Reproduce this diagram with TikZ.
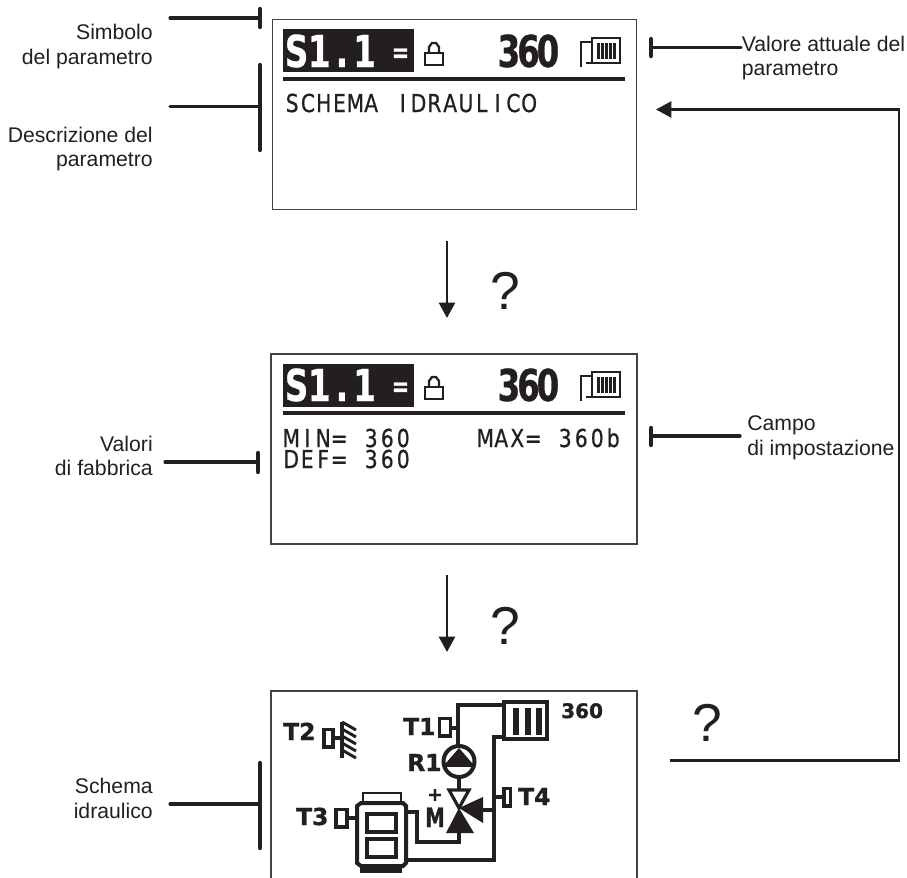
\documentclass[tikz,border=0pt]{standalone}
\usepackage{fontspec}
\usetikzlibrary{arrows.meta}
\setmainfont{Liberation Sans}
\newfontfamily\lcdreg[FakeStretch=0.82,FakeBold=0.7]{DejaVu Sans}
\newfontfamily\lcdbold[FakeStretch=0.74,FakeBold=0.6]{DejaVu Sans}
\newfontfamily\iconbold[FakeBold=1.2]{DejaVu Sans}
\makeatletter
\newcommand\lcdfix[2]{\@tfor\lcd@c:=#2\do{\makebox[#1][c]{\lcd@c}}}
\makeatother
\definecolor{ink}{HTML}{231F20}
\tikzset{
  x=0.75pt,y=-0.75pt,
  screen/.style={draw=ink!85,line width=0.85pt,fill=white,inner sep=0pt},
  lbl/.style={inner sep=0pt,text=ink,font=\fontsize{15.9}{19}\selectfont},
  lead/.style={draw=ink,line width=2.3pt,line cap=round},
  bar/.style={draw=ink,line width=3.2pt,line cap=round},
  flow/.style={draw=ink,line width=1.9pt,-{Triangle[length=11.5pt,width=12pt]}},
  ask/.style={inner sep=0pt,text=ink,font=\fontsize{40}{44}\selectfont},
  rule/.style={draw=ink,line width=2.4pt},
  lcdtxt/.style={inner sep=0pt,anchor=base west,text=ink,font=\lcdreg\fontsize{18.5}{20}\selectfont},
  bigtxt/.style={inner sep=0pt,anchor=base west,text=ink,font=\lcdbold\bfseries\fontsize{33}{36}\selectfont},
  eqtxt/.style={inner sep=0pt,anchor=base,text=white,font=\lcdbold\bfseries\fontsize{21}{24}\selectfont},
  icontxt/.style={inner sep=0pt,anchor=base west,text=ink,font=\iconbold\bfseries\fontsize{17.5}{18}\selectfont},
  pipe/.style={draw=ink,line width=3pt,line join=miter},
  thin/.style={draw=ink,line width=1.7pt},
  sens/.style={draw=ink,line width=2.8pt},
}
\newcommand\lockicon[2]{%
  \draw[thin] (#1,#2) rectangle ++(18,12);
  \draw[thin] (#1+4,#2) -- (#1+4,#2-6) -- (#1+7,#2-10) -- (#1+11,#2-10) -- (#1+14,#2-6) -- (#1+14,#2);
}
\newcommand\radicon[2]{%
  \draw[thin] (#1+1,#2+29) -- (#1+1,#2+4) -- (#1+12,#2+4);
  \draw[thin] (#1+6,#2+25) -- (#1+12,#2+25);
  \draw[thin] (#1+12,#2) rectangle ++(28,25);
  \foreach \k in {0,...,4}{\fill[ink] (#1+17+\k*4,#2+5) rectangle ++(2.6,16);}
}
\begin{document}
\begin{tikzpicture}
\useasboundingbox (0,0) rectangle (907,878);
% screens
\node[screen,minimum width=272.5pt,minimum height=142pt] (s1) at (454.5,114.5) {};
\node[screen,minimum width=274.5pt,minimum height=142.5pt] (s2) at (454,449) {};
\coordinate (s3a) at (271,878);
\coordinate (s3b) at (637,878);
\coordinate (s3t) at (637,691);
\draw[draw=ink!85,line width=0.85pt] (s3a) |- (s3t) -- (s3b);
% screen 1
\node[fill=ink,inner sep=0pt,minimum width=98.25pt,minimum height=32.25pt,anchor=north west] (inv1) at (283,29) {};
\node[bigtxt,text=white] (sym1) at (285,67) {\lcdfix{17pt}{S1.1}};
\node[eqtxt] (eq1) at (400.5,62) {=};
\lockicon{425}{53}
\node[bigtxt] (val1) at (499,67) {\lcdfix{14.6pt}{360}};
\radicon{580}{38}
\draw[rule] (283,79) -- (625,79);
\node[lcdtxt] (desc) at (284,112) {\lcdfix{11.85pt}{SCHEMA~IDRAULICO}};
% screen 2
\node[fill=ink,inner sep=0pt,minimum width=98.25pt,minimum height=32.25pt,anchor=north west] (inv2) at (283,364) {};
\node[bigtxt,text=white] (sym2) at (285,401) {\lcdfix{17pt}{S1.1}};
\node[eqtxt] (eq2) at (400.5,396) {=};
\lockicon{425}{387}
\node[bigtxt] (val2) at (499,401) {\lcdfix{14.6pt}{360}};
\radicon{580}{372}
\draw[rule] (283,413) -- (625,413);
\node[lcdtxt] (minv) at (283,447) {\lcdfix{12pt}{MIN=~360}};
\node[lcdtxt] (defv) at (283,468) {\lcdfix{12pt}{DEF=~360}};
\node[lcdtxt] (maxv) at (477,447) {\lcdfix{12pt}{MAX=~360b}};
% screen 3: hydraulic scheme
\node[icontxt] (t2) at (283,740) {T2};
\draw[sens] (324,729.5) rectangle (333,747);
\draw[pipe] (334,738) -- (342,738);
\draw[pipe] (342,722) -- (342,758);
\foreach \yy in {722,729,736,743,750}{\draw[pipe,line width=2.2pt] (342,\yy) -- (356,\yy+8);}
\node[icontxt] (t1) at (403,735) {T1};
\draw[sens] (439.5,718.5) rectangle (450.5,736);
\draw[pipe] (451,727.5) -- (458,727.5);
\draw[pipe] (503,705) -| (458,745);
\draw[pipe,line width=3.4pt] (504,702) rectangle (547,739);
\foreach \xx in {513,525,536}{\fill[ink] (\xx,708) rectangle ++(5.5,27);}
\draw[pipe] (503,737) -| (494,860) -- (406,860);
\node[icontxt,font=\iconbold\bfseries\fontsize{15}{16}\selectfont] (n360) at (561,718) {360};
\node[icontxt] (r1) at (407,771) {R1};
\draw[pipe] (459,761.5) circle (15.5);
\fill[ink] (459,748) -- (472,763) -- (446,763) -- cycle;
\draw[pipe] (444,765) -- (474,765);
\draw[pipe] (458.5,777) -- (458.5,789);
\draw[thin,line width=2.4pt] (449,790) -- (469,790) -- (459,808) -- cycle;
\fill[ink] (459,808) -- (474,833) -- (446,833) -- cycle;
\fill[ink] (459,808) -- (483,797) -- (483,823) -- cycle;
\draw[pipe] (482,810) -- (494,810);
\draw[pipe] (494,797) -- (503,797);
\draw[sens] (504,788.5) rectangle (510.5,806);
\node[icontxt] (t4) at (518,805) {T4};
\node[icontxt,anchor=center,font=\iconbold\bfseries\fontsize{14}{14}\selectfont] (plus) at (435,795) {+};
\node[icontxt,anchor=base,font=\lcdbold\bfseries\fontsize{20}{22}\selectfont] (mot) at (435,827) {M};
\draw[pipe] (458.5,832) -- (458.5,842) -- (417,842) -- (417,812) -- (406,812);
\node[icontxt] (t3) at (296,825) {T3};
\draw[sens] (336,809.5) rectangle (347,827);
\draw[pipe] (347,818) -- (356,818);
\draw[pipe] (361,803) -- (403,803) -- (406,806) -- (406,863) -- (403,866) -- (361,866) -- (357,863) -- (357,806) -- cycle;
\draw[pipe,line width=2.2pt] (363,803) -- (363,793) -- (401,793) -- (401,803);
\draw[pipe,line width=2.8pt] (367,814) rectangle (396,832);
\draw[pipe,line width=2.8pt] (367,839) rectangle (396,857);
\fill[ink] (360,866) rectangle (402,873);
% left labels
\node[lbl,anchor=base east] (l1a) at (153,39.5) {Simbolo};
\node[lbl,anchor=base east] (l1b) at (153,64) {del parametro};
\node[lbl,anchor=base east] (l2a) at (153,142.5) {Descrizione del};
\node[lbl,anchor=base east] (l2b) at (153,166) {parametro};
\node[lbl,anchor=base east] (l3a) at (153,451) {Valori};
\node[lbl,anchor=base east] (l3b) at (153,475) {di fabbrica};
\node[lbl,anchor=base east] (l4a) at (153,793) {Schema};
\node[lbl,anchor=base east] (l4b) at (153,818) {idraulico};
% right labels
\node[lbl,anchor=base west] (r1a) at (741.5,51) {Valore attuale del};
\node[lbl,anchor=base west] (r1b) at (741.5,75.5) {parametro};
\node[lbl,anchor=base west] (r2a) at (747,430) {Campo};
\node[lbl,anchor=base west] (r2b) at (747,455) {di impostazione};
% leaders
\coordinate (a1) at (170,18); \coordinate (b1) at (260,18);
\coordinate (b1t) at (260,9); \coordinate (b1b) at (260,27);
\draw[lead] (a1) -- (b1); \draw[bar] (b1t) -- (b1b);
\coordinate (a2) at (170,106.5); \coordinate (b2) at (260,106.5);
\coordinate (b2t) at (260,65); \coordinate (b2b) at (260,150);
\draw[lead] (a2) -- (b2); \draw[bar] (b2t) -- (b2b);
\coordinate (a3) at (165,462); \coordinate (b3) at (258,462);
\coordinate (b3t) at (258,453); \coordinate (b3b) at (258,472);
\draw[lead] (a3) -- (b3); \draw[bar] (b3t) -- (b3b);
\coordinate (a4) at (170,804); \coordinate (b4) at (260,804);
\coordinate (b4t) at (260,763); \coordinate (b4b) at (260,848);
\draw[lead] (a4) -- (b4); \draw[bar] (b4t) -- (b4b);
\coordinate (a5) at (741,47.5); \coordinate (b5) at (651,47.5);
\coordinate (b5t) at (651,39); \coordinate (b5b) at (651,56);
\draw[lead] (a5) -- (b5); \draw[bar] (b5t) -- (b5b);
\coordinate (a6) at (740,436); \coordinate (b6) at (651,436);
\coordinate (b6t) at (651,428); \coordinate (b6b) at (651,445);
\draw[lead] (a6) -- (b6); \draw[bar] (b6t) -- (b6b);
% flow arrows
\coordinate (f1a) at (447,241); \coordinate (f1b) at (447,318);
\draw[flow] (f1a) -- (f1b);
\node[ask] (q1) at (505.5,291) {?};
\coordinate (f2a) at (447,575); \coordinate (f2b) at (447,652);
\draw[flow] (f2a) -- (f2b);
\node[ask] (q2) at (505.5,626) {?};
\coordinate (f3a) at (670,760.5); \coordinate (f3c) at (899,760.5);
\coordinate (f3d) at (899,109.5); \coordinate (f3b) at (656,109.5);
\draw[flow] (f3a) -- (f3c) -- (f3d) -- (f3b);
\node[ask] (q3) at (707.5,723) {?};
\end{tikzpicture}
\end{document}
